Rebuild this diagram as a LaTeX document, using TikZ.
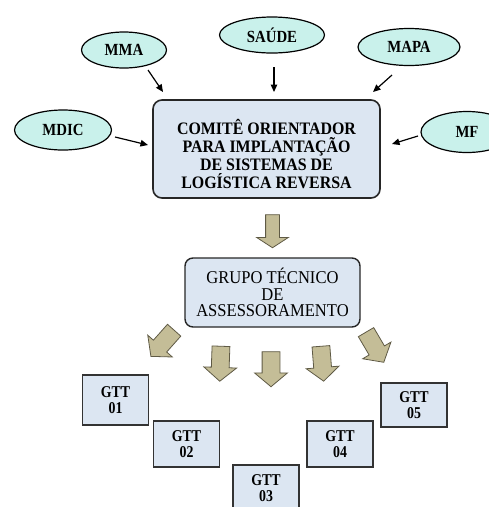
\documentclass[tikz,border=0pt]{standalone}
\usepackage{fontspec}
\setmainfont{Liberation Serif}
\newfontfamily\ellfont[FakeStretch=0.87]{Liberation Serif}
\newfontfamily\mainfont[FakeStretch=0.91]{Liberation Serif}
\newfontfamily\gttfont[FakeStretch=0.84]{Liberation Serif}
\newfontfamily\grupofont[FakeStretch=0.92]{Liberation Serif}
\usetikzlibrary{shapes.geometric,shapes.arrows,arrows.meta}
\definecolor{ellfill}{HTML}{C9F1EB}
\definecolor{boxfill}{HTML}{DCE6F2}
\definecolor{khaki}{HTML}{C4BD97}
\definecolor{khakiline}{HTML}{5F5A45}
\begin{document}
\begin{tikzpicture}[x=1pt,y=-1pt,
  ell/.style={ellipse, draw=black, line width=1.2pt, fill=ellfill, inner sep=0pt,
    font=\ellfont\fontsize{17}{19}\selectfont\bfseries},
  mainbox/.style={rectangle, draw=black!85, line width=1.6pt, rounded corners=9pt,
    fill=boxfill, inner sep=0pt},
  maintext/.style={align=center, inner sep=0pt,
    font=\mainfont\fontsize{17.5}{18}\selectfont\bfseries},
  grupobox/.style={rectangle, draw=black!85, line width=1.4pt, rounded corners=8pt,
    fill=boxfill, align=center, inner sep=0pt,
    font=\grupofont\fontsize{18}{16.7}\selectfont},
  gtt/.style={rectangle, draw=black!80, line width=1.1pt, fill=boxfill,
    minimum width=66pt, align=center, inner sep=0pt,
    font=\gttfont\fontsize{16.5}{16.5}\selectfont\bfseries},
  khakiarrow/.style={single arrow, draw=khakiline, fill=khaki, line width=0.8pt,
    inner xsep=0pt, inner ysep=8.5pt, single arrow head extend=7.5pt,
    single arrow tip angle=100, minimum height=35pt},
  thin/.style={-{Triangle[length=7.5pt,width=6.5pt]}, line width=1.2pt}
]
\useasboundingbox (0,0) rectangle (489,507);

% ellipses
\node[ell, minimum width=85pt, minimum height=36pt] (mma) at (124,50) {MMA};
\node[ell, minimum width=105pt, minimum height=36pt] (saude) at (272,35) {SAÚDE};
\node[ell, minimum width=102pt, minimum height=37pt] (mapa) at (409,47) {MAPA};
\node[ell, minimum width=97pt, minimum height=40pt] (mdic) at (63,130) {MDIC};
\node[ell, minimum width=92pt, minimum height=41pt] (mf) at (467,132) {MF};

% main box
\node[mainbox, minimum width=227pt, minimum height=98pt] (comite) at (266.5,149) {};
\node[maintext] (comitetext) at (266.5,154)
  {COMITÊ ORIENTADOR\\PARA IMPLANTAÇÃO\\DE SISTEMAS DE\\LOGÍSTICA REVERSA};

% thin arrows
\coordinate (a1s) at (148,70);  \coordinate (a1e) at (163,92);
\coordinate (a2s) at (274,67);  \coordinate (a2e) at (274,92);
\coordinate (a3s) at (392,75);  \coordinate (a3e) at (373,92);
\coordinate (a4s) at (115,137); \coordinate (a4e) at (148,145);
\coordinate (a5s) at (418,136); \coordinate (a5e) at (392,144);
\draw[thin] (a1s) -- (a1e);
\draw[thin] (a2s) -- (a2e);
\draw[thin] (a3s) -- (a3e);
\draw[thin] (a4s) -- (a4e);
\draw[thin] (a5s) -- (a5e);

% big arrow
\node[khakiarrow, minimum height=33pt, inner ysep=6.5pt, single arrow head extend=9pt,
  single arrow tip angle=114, rotate=-90] (bigarr) at (272.5,229) {};

% grupo box
\node[grupobox, minimum width=175pt, minimum height=69pt] (grupo) at (272.5,292.5)
  {GRUPO TÉCNICO\\DE\\ASSESSORAMENTO};

% khaki arrows
\node[khakiarrow, rotate=-131.6] (k1) at (165,340.5) {};
\node[khakiarrow, rotate=-92] (k2) at (220.5,360) {};
\node[khakiarrow, rotate=-90] (k3) at (271,365.5) {};
\node[khakiarrow, rotate=-85.5] (k4) at (322,360) {};
\node[khakiarrow, rotate=-59.5] (k5) at (373,344) {};

% GTT boxes
\node[gtt, minimum height=50pt] (g1) at (115.5,400) {GTT\\01};
\node[gtt, minimum height=46pt] (g2) at (186.5,444) {GTT\\02};
\node[gtt, minimum height=46pt] (g3) at (266,488) {GTT\\03};
\node[gtt, minimum height=46pt] (g4) at (340,444) {GTT\\04};
\node[gtt, minimum height=44pt] (g5) at (414,405) {GTT\\05};
\end{tikzpicture}
\end{document}
